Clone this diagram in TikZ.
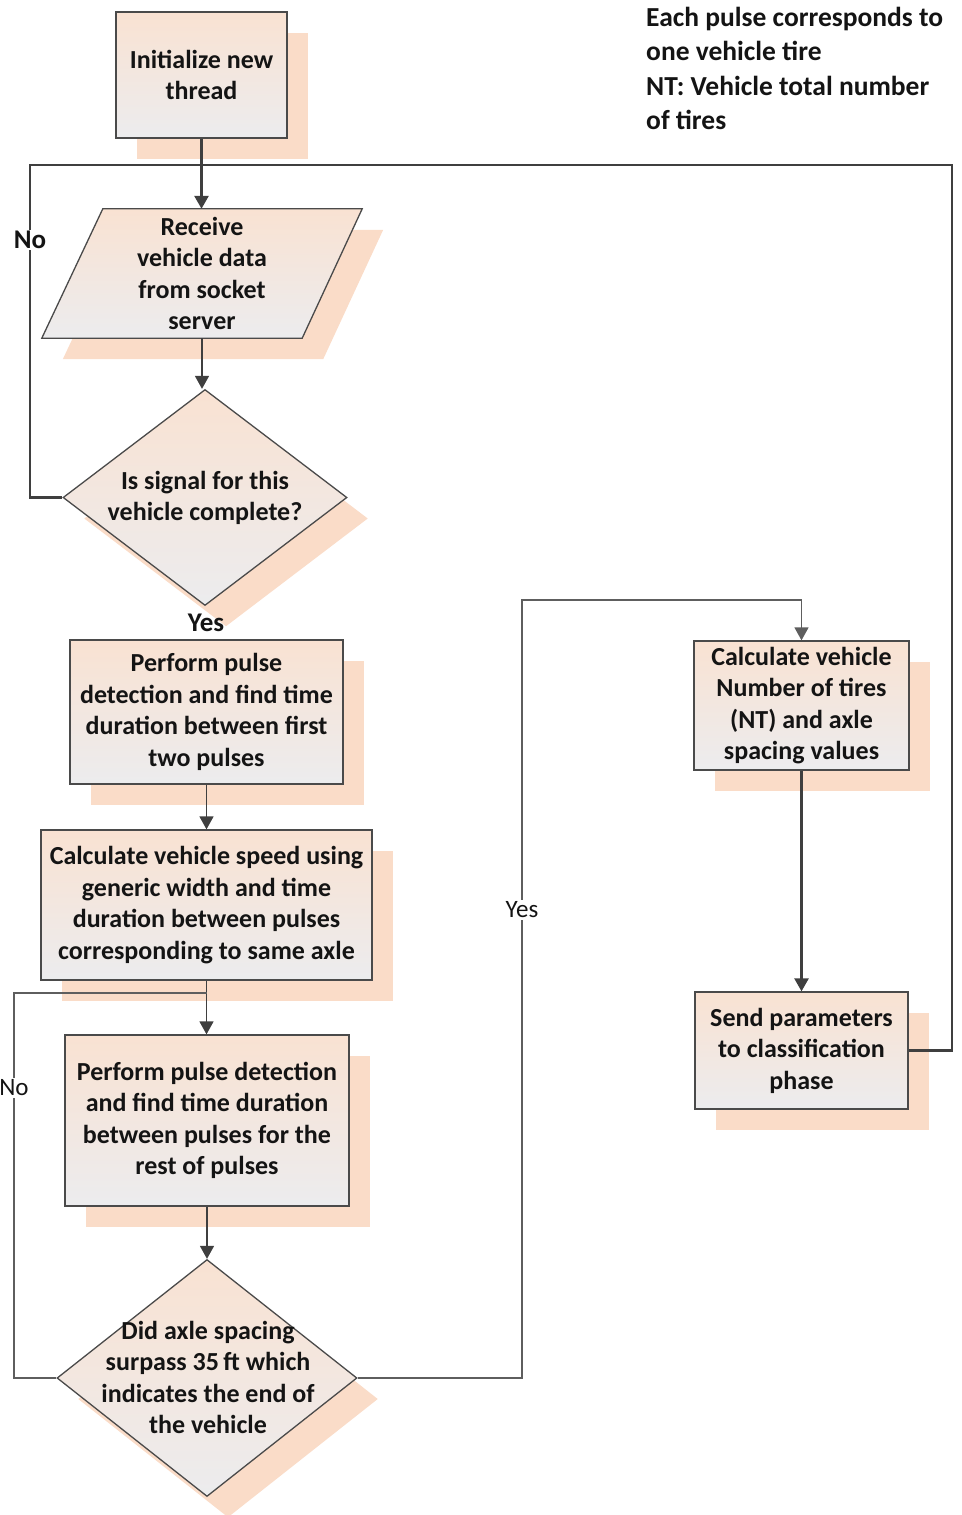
\documentclass[tikz,border=0pt]{standalone}
\usepackage{fontspec}
\setmainfont{Carlito}
\usetikzlibrary{shapes.geometric,shadows,arrows.meta,backgrounds}

\definecolor{peach}{HTML}{F9E2D2}
\definecolor{paleg}{HTML}{ECECEE}
\definecolor{shadowc}{HTML}{FADCC8}
\definecolor{edge}{HTML}{4A4A4A}
\definecolor{wire}{HTML}{3F3F3F}
\definecolor{thinwire}{HTML}{5E5E5E}
\definecolor{ink}{HTML}{141414}

\tikzset{
  x=1pt, y=-1pt,
  boxfont/.style={font=\fontsize{26}{31.5}\selectfont\bfseries, text=ink, align=center},
  flowfill/.style={draw=edge, line width=1.3pt, top color=peach, bottom color=paleg},
  flowshadow/.style={general shadow={fill=shadowc, shadow xshift=21pt, shadow yshift=-21pt}},
  procbox/.style={rectangle, flowfill, flowshadow, boxfont, inner sep=0pt},
  decision/.style={diamond, flowfill, flowshadow, inner sep=0pt},
  plain/.style={boxfont, inner sep=0pt},
  heavy/.style={draw=wire, line width=2.6pt},
  medium/.style={draw=wire, line width=1.5pt},
  light/.style={draw=thinwire, line width=1.5pt},
  tip/.style={-{Triangle[width=14pt,length=13pt]}},
  tag/.style={fill=white, inner sep=1.5pt, text=ink},
}

\begin{document}
\begin{tikzpicture}
\useasboundingbox (0,0) rectangle (961,1515);

% --- process boxes ---
\node[procbox, minimum width=171pt, minimum height=126pt] (init) at (201.5,75)
  {Initialize new\\thread};
\node[procbox, minimum width=273pt, minimum height=144pt] (pulse1) at (206.5,712)
  {Perform pulse\\detection and find time\\duration between first\\two pulses};
\node[procbox, minimum width=331pt, minimum height=150pt] (speed) at (206.5,905)
  {Calculate vehicle speed using\\generic width and time\\duration between pulses\\corresponding to same axle};
\node[procbox, minimum width=284pt, minimum height=171pt] (pulse2) at (207,1120.5)
  {Perform pulse detection\\and find time duration\\between pulses for the\\rest of pulses};
\node[procbox, minimum width=215pt, minimum height=129pt] (tires) at (801.5,705.5)
  {Calculate vehicle\\Number of tires\\(NT) and axle\\spacing values};
\node[procbox, minimum width=213pt, minimum height=117pt] (send) at (801.5,1050.5)
  {Send parameters\\to classification\\phase};

% --- input (parallelogram) ---
\node[plain, minimum width=260pt, minimum height=129pt] (recv) at (202,273.5)
  {Receive\\vehicle data\\from socket\\server};
\begin{scope}[on background layer]
  \fill[shadowc]
    ([xshift=-9pt,yshift=-21pt]recv.south west) --
    ([xshift=52pt,yshift=-21pt]recv.north west) --
    ([xshift=51pt,yshift=-21pt]recv.north east) --
    ([xshift=-9pt,yshift=-21pt]recv.south east) -- cycle;
  \path[flowfill]
    ([xshift=-30pt]recv.south west) --
    ([xshift=31pt]recv.north west) --
    ([xshift=30pt]recv.north east) --
    ([xshift=-30pt]recv.south east) -- cycle;
\end{scope}

% --- decisions ---
\node[decision, minimum width=284pt, minimum height=216pt] (check) at (205,497.5) {};
\node[plain] (checktxt) at (205,498) {Is signal for this\\vehicle complete?};
\node[decision, minimum width=300pt, minimum height=237pt] (axle) at (207,1378) {};
\node[plain] (axletxt) at (208,1377.5)
  {Did axle spacing\\surpass 35\,ft which\\indicates the end of\\the vehicle};

% --- notes ---
\node[anchor=north west, align=left, inner sep=0pt, text=ink,
      font=\fontsize{27.5}{34.3}\selectfont\bfseries] (notes) at (646,7)
  {Each pulse corresponds to\\one vehicle tire\\NT: Vehicle total number\\of tires};

% --- loop corner points ---
\coordinate (tl) at (30,165);
\coordinate (tr) at (952,165);
\coordinate (lowl) at (14,993);
\coordinate (yesb) at (522,600);

% --- connectors ---
\draw[heavy] (send.east) -- (tr |- send.east) -- (tr) -- (tl) -- (tl |- check.west) -- (check.west);
\draw[heavy, tip] (init.south) -- (init.south |- recv.north);
\draw[medium, tip] (recv.south) -- (recv.south |- check.north);
\draw[medium, tip] (pulse1.south) -- (pulse1.south |- speed.north);
\draw[medium, tip] (speed.south) -- (speed.south |- pulse2.north);
\draw[medium, tip] (pulse2.south) -- (pulse2.south |- axle.north);
\draw[light] (axle.west) -- (lowl |- axle.west) -- (lowl) -- (lowl -| speed.south);
\draw[light, tip] (axle.east) -- (yesb |- axle.east) -- (yesb) -- (yesb -| tires.north) -- (tires.north);
\draw[heavy, tip] (tires.south) -- (send.north);

% --- connector labels ---
\node[tag, font=\fontsize{27}{30}\selectfont\bfseries] (nohi) at (30,240) {No};
\node[tag, font=\fontsize{27}{30}\selectfont\bfseries, fill=none] (yeshi) at (206,623) {Yes};
\node[tag, font=\fontsize{25}{28}\selectfont] (nolo) at (14,1088) {No};
\node[tag, font=\fontsize{25}{28}\selectfont] (yeslo) at (522,910) {Yes};
\end{tikzpicture}
\end{document}
